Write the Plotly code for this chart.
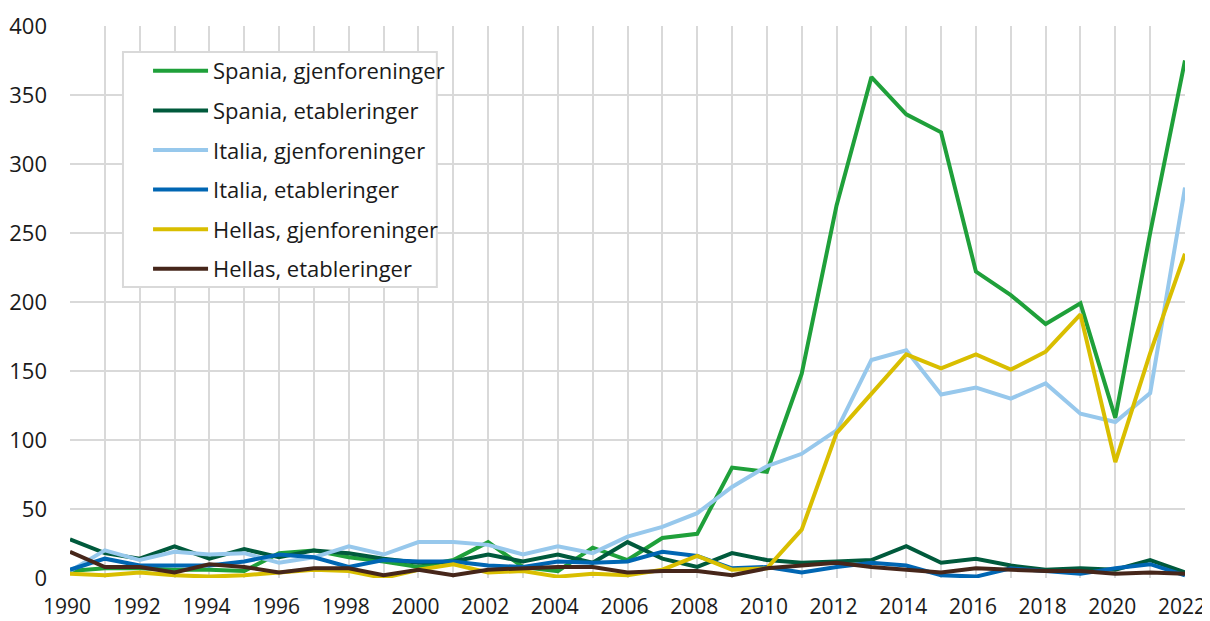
import plotly.graph_objects as go

years = list(range(1990, 2023))

spania_gjenf = [5, 7, 7, 6, 6, 5, 18, 20, 15, 12, 8, 13, 26, 8, 5, 22, 13, 29, 32, 80, 77,
                148, 270, 363, 336, 323, 222, 205, 184, 199, 116, 250, 375]
spania_etab = [28, 18, 14, 23, 14, 21, 15, 20, 18, 14, 11, 12, 17, 12, 17, 11, 26, 14, 8, 18, 13,
               11, 12, 13, 23, 11, 14, 9, 6, 7, 6, 13, 4]
italia_gjenf = [5, 20, 13, 19, 17, 18, 11, 15, 23, 17, 26, 26, 24, 17, 23, 18, 30, 37, 47, 66, 81,
                90, 107, 158, 165, 133, 138, 130, 141, 119, 113, 134, 283]
italia_etab = [6, 14, 9, 9, 9, 12, 17, 15, 8, 13, 12, 12, 9, 8, 12, 11, 12, 19, 16, 7, 8,
               4, 8, 11, 9, 2, 1, 7, 5, 3, 7, 10, 2]
hellas_gjenf = [3, 2, 4, 2, 1, 2, 4, 6, 5, 0, 6, 10, 4, 5, 1, 3, 2, 6, 16, 6, 7,
                35, 105, 133, 162, 152, 162, 151, 164, 191, 84, 163, 235]
hellas_etab = [19, 8, 8, 4, 10, 8, 4, 7, 7, 2, 6, 2, 6, 7, 8, 8, 4, 5, 5, 2, 7,
               9, 11, 8, 6, 4, 7, 6, 5, 5, 3, 4, 3]

series = [
    ("Spania, gjenforeninger", spania_gjenf, "#1FA03A"),
    ("Spania, etableringer", spania_etab, "#005A3C"),
    ("Italia, gjenforeninger", italia_gjenf, "#97C8EC"),
    ("Italia, etableringer", italia_etab, "#0066B3"),
    ("Hellas, gjenforeninger", hellas_gjenf, "#D9BE00"),
    ("Hellas, etableringer", hellas_etab, "#46261A"),
]

fig = go.Figure()
for i, (name, vals, col) in enumerate(series):
    fig.add_trace(go.Scatter(x=years, y=vals, name=name, mode="lines",
                             line=dict(color=col, width=4), legendgroup=f"g{i}"))

font = dict(family="Open Sans, Noto Sans, sans-serif", size=22, color="#1a1a1a")

# legend frame
fig.add_shape(type="rect", xref="paper", yref="paper",
              x0=0.0475, x1=0.329, y0=0.527, y1=0.953,
              line=dict(color="#D9D9D9", width=2), fillcolor="white", layer="above")

fig.update_layout(
    width=1202, height=613,
    margin=dict(l=62, r=25, t=18, b=43),
    paper_bgcolor="white", plot_bgcolor="white",
    font=font,
    showlegend=True,
    legend=dict(x=0.070, y=0.9565, xanchor="left", yanchor="top",
                borderwidth=0, bgcolor="rgba(0,0,0,0)",
                font=font, tracegroupgap=8, itemwidth=55),
    xaxis=dict(range=[1990, 2022], dtick=2, tick0=1990, showgrid=True,
               gridcolor="#D9D9D9", gridwidth=2, zeroline=False, showline=False,
               ticks="", tickfont=dict(family=font["family"], size=21, color="#1a1a1a"),
               ticklabelstandoff=14, automargin=False,
               ticklabeloverflow="allow", ticklabelshift=-3,
               minor=dict(dtick=1, showgrid=True, gridcolor="#D9D9D9", gridwidth=2)),
    yaxis=dict(range=[0, 400], dtick=50, showgrid=True, gridcolor="#D9D9D9",
               gridwidth=2, zeroline=False, showline=False, ticks="",
               tickfont=font, ticklabelstandoff=22, automargin=False,
               ticklabeloverflow="allow"),
)

fig.write_html("out.html")
